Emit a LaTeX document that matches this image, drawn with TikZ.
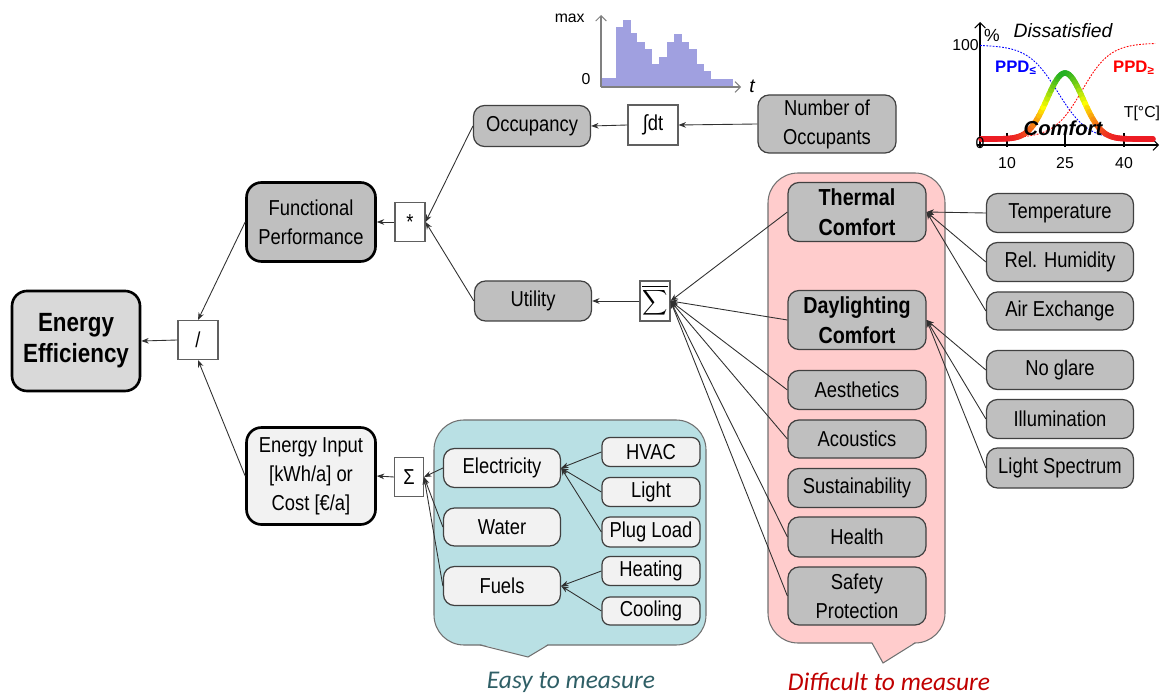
\documentclass[tikz,border=0pt]{standalone}
\usepackage{fontspec}
\setmainfont[FakeStretch=0.85]{Liberation Sans}
\newfontfamily\chartfont{Liberation Sans}
\newfontfamily\notefont{Carlito}
\usetikzlibrary{arrows.meta}

\definecolor{nodegray}{HTML}{BFBFBF}
\definecolor{nodelight}{HTML}{F2F2F2}
\definecolor{eefill}{HTML}{D9D9D9}
\definecolor{nodeline}{HTML}{404040}
\definecolor{opline}{HTML}{606060}
\definecolor{linkc}{HTML}{303030}
\definecolor{tealfill}{HTML}{B9E0E4}
\definecolor{pinkfill}{HTML}{FFCCCC}
\definecolor{regionline}{HTML}{707070}
\definecolor{histbar}{HTML}{A0A0E0}
\definecolor{histaxis}{HTML}{808080}
\definecolor{cgreen}{HTML}{22B022}
\definecolor{easyc}{HTML}{2F5F66}
\definecolor{hardc}{HTML}{C00000}

\begin{document}
\begin{tikzpicture}[x=0.02cm,y=-0.02cm,
  sz/.style 2 args={minimum width=#1*0.02cm, minimum height=#2*0.02cm},
  box/.style={draw=nodeline, line width=0.7pt, rounded corners=0.22cm, align=center,
    inner sep=0pt, font=\fontsize{12.3}{16.5}\selectfont},
  graybox/.style={box, fill=nodegray},
  lightbox/.style={box, fill=nodelight},
  smallbox/.style={lightbox, rounded corners=0.16cm},
  mainbox/.style={box, draw=black, line width=1.5pt, rounded corners=0.3cm},
  op/.style={draw=opline, fill=white, line width=0.6pt, inner sep=0pt,
    font=\fontsize{12.3}{14}\selectfont},
  link/.style={draw=linkc, line width=0.5pt, -{Stealth[length=4.2pt,width=3.2pt]}},
  region/.style={draw=regionline, line width=0.6pt, rounded corners=0.6cm},
  boldtxt/.style={font=\fontsize{13.2}{17}\selectfont\bfseries},
  axis/.style={line width=0.6pt, -{Straight Barb[length=3pt,width=6pt]}},
  small/.style={font=\chartfont\fontsize{9}{10}\selectfont, inner sep=0pt}
]
\useasboundingbox (0,0) rectangle (1162,695);

% ---------- background regions ----------
\draw[region, fill=tealfill] (434,420) rectangle (706,645);
\fill[tealfill] (480,644) -- (548,644) -- (528,657) -- cycle;
\draw[draw=regionline, line width=0.6pt] (480,645) -- (528,657) -- (548,645);

\draw[region, fill=pinkfill] (768,173) rectangle (945,643);
\fill[pinkfill] (872,642) -- (915,642) -- (883,663) -- cycle;
\draw[draw=regionline, line width=0.6pt] (872,643) -- (883,663) -- (915,643);

% ---------- main tree ----------
\node[mainbox, fill=eefill, sz={128}{100}, font=\fontsize{15}{17.6}\selectfont\bfseries]
  (ee) at (76,341) {Energy\\Efficiency};
\node[op, sz={40}{39}] (div) at (198,340) {/};
\node[mainbox, fill=nodegray, sz={129}{79}] (fp) at (311,222) {Functional\\Performance};
\node[op, sz={30}{39}] (mul) at (410,222) {*};
\node[graybox, sz={117}{41}] (occ) at (532,126) {Occupancy};
\node[op, sz={50}{40}] (integ) at (653,125) {∫dt};
\node[graybox, sz={138}{58}] (noo) at (827,124) {Number of\\Occupants};
\node[graybox, sz={117}{40}] (util) at (533,301) {Utility};
\node[op, sz={30}{40}, font=\fontsize{11.5}{11.5}\selectfont] (sumbar) at (655,301) {$\displaystyle\overline{\sum}$};
\node[mainbox, fill=nodelight, sz={129}{97}] (ei) at (311,476) {Energy Input\\{}[kWh/a] or\\Cost [€/a]};
\node[op, sz={29}{39}] (sum) at (409,477) {Σ};

% energy inputs (easy to measure)
\node[lightbox, sz={117}{39}] (elec) at (502,468) {Electricity};
\node[lightbox, sz={117}{38}] (water) at (502,527) {Water};
\node[lightbox, sz={117}{39}] (fuels) at (502,586) {Fuels};
\node[smallbox, sz={98}{29}] (hvac) at (651,452) {HVAC};
\node[smallbox, sz={98}{29}] (light) at (651,492) {Light};
\node[smallbox, sz={98}{30}] (plug) at (651,532) {Plug Load};
\node[smallbox, sz={98}{29}] (heat) at (651,571) {Heating};
\node[smallbox, sz={98}{28}] (cool) at (651,611) {Cooling};

% utility factors (difficult to measure)
\node[graybox, boldtxt, sz={138}{59}] (tc) at (857,212) {Thermal\\Comfort};
\node[graybox, boldtxt, sz={138}{59}] (dc) at (857,320) {Daylighting\\Comfort};
\node[graybox, sz={138}{39}] (aes) at (857,390) {Aesthetics};
\node[graybox, sz={138}{38}] (aco) at (857,439) {Acoustics};
\node[graybox, sz={138}{39}] (sus) at (857,488) {Sustainability};
\node[graybox, sz={138}{40}] (hea) at (857,537) {Health};
\node[graybox, sz={138}{58}] (saf) at (857,596) {Safety\\Protection};

\node[graybox, sz={147}{39}] (temp) at (1060,213) {Temperature};
\node[graybox, sz={147}{39}] (hum) at (1060,262) {Rel. Humidity};
\node[graybox, sz={147}{38}] (air) at (1060,311) {Air Exchange};
\node[graybox, sz={147}{39}] (glare) at (1060,370) {No glare};
\node[graybox, sz={147}{39}] (illum) at (1060,419) {Illumination};
\node[graybox, sz={147}{40}] (spec) at (1060,468) {Light Spectrum};

% ---------- connectors ----------
\draw[link] (div.west) -- (ee.east);
\draw[link] (fp.west) -- (div.north);
\draw[link] (ei.west) -- (div.south);
\draw[link] (mul.west) -- (fp.east);
\draw[link] (occ.west) -- (mul.east);
\draw[link] (util.west) -- (mul.east);
\draw[link] (integ.west) -- (occ.east);
\draw[link] (noo.west) -- (integ.east);
\draw[link] (sumbar.west) -- (util.east);
\foreach \n in {tc,dc,aes,aco,hea,saf}
  \draw[link] (\n.west) -- (sumbar.east);
\foreach \n in {temp,hum,air}
  \draw[link] (\n.west) -- (tc.east);
\foreach \n in {glare,illum,spec}
  \draw[link] (\n.west) -- (dc.east);
\draw[link] (sum.west) -- (ei.east);
\foreach \n in {elec,water,fuels}
  \draw[link] (\n.west) -- (sum.east);
\foreach \n in {hvac,light,plug}
  \draw[link] (\n.west) -- (elec.east);
\foreach \n in {heat,cool}
  \draw[link] (\n.west) -- (fuels.east);

% ---------- occupancy histogram ----------
\foreach \a/\b/\t in {601/616/78, 616/623.3/27, 623.3/630.7/20, 630.7/637.3/33,
    637.3/645/42, 645/652.3/49, 652.3/659.3/64, 659.3/667.3/57, 667.3/674.3/42,
    674.3/681.7/34, 681.7/689/42, 689/696.7/49, 696.7/704/64, 704/711/71, 711/733/79}
  \fill[histbar] (\a,87) rectangle (\b,\t);
\draw[axis, histaxis] (601,87) -- (601,15);
\draw[axis, histaxis] (601,87) -- (741,87);
\node[small, anchor=east] (hmax) at (585,18) {max};
\node[small] (hzero) at (586,79) {0};
\node[small, font=\chartfont\itshape\fontsize{11}{12}\selectfont] (ht) at (752,86) {t};

% ---------- PPD / comfort chart ----------
\draw[axis, black] (980,148) -- (980,22);
\draw[axis, black] (977,145) -- (1159,145);
\foreach \tx in {1007,1065,1124}
  \draw[black, line width=0.6pt] (\tx,133) -- (\tx,147);
\draw[blue, line width=0.5pt, dash pattern=on 1pt off 0.8pt, domain=980:1155, samples=80, smooth]
  plot (\x, {45+95/(1+exp(-(\x-1058)/15))});
\draw[red, line width=0.5pt, dash pattern=on 1pt off 0.8pt, domain=980:1155, samples=80, smooth]
  plot (\x, {138-95/(1+exp(-(\x-1082)/14))});
% comfort band, coloured by height
\foreach \i in {0,...,85}{
  \pgfmathsetmacro\xa{981+2*\i}
  \pgfmathsetmacro\xb{\xa+2}
  \pgfmathsetmacro\ya{139-66*exp(-((\xa-1065)^2)/648)}
  \pgfmathsetmacro\yb{139-66*exp(-((\xb-1065)^2)/648)}
  \pgfmathsetmacro\hm{exp(-((\xa+1-1065)^2)/648)}
  \ifdim\hm pt<0.5pt
    \pgfmathsetmacro\pc{200*\hm}\def\cc{yellow!\pc!red}
  \else
    \pgfmathsetmacro\pc{200*(\hm-0.5)}\def\cc{cgreen!\pc!yellow}
  \fi
  \draw[line width=3.2pt, line cap=round, color=\cc] (\xa,\ya) -- (\xb,\yb);
}
\node[small, font=\chartfont\fontsize{10}{11}\selectfont] (pct) at (992,35) {\%};
\node[small, font=\chartfont\itshape\fontsize{11}{12}\selectfont] (diss) at (1063,31) {Dissatisfied};
\node[small, anchor=east] (hundred) at (979,45) {100};
\node[small] (origin) at (980,143) {0};
\node[small, font=\chartfont\bfseries\fontsize{9.5}{10}\selectfont, text=blue] (ppdl) at (1016,68) {PPD\textsubscript{≤}};
\node[small, font=\chartfont\bfseries\fontsize{9.5}{10}\selectfont, text=red] (ppdg) at (1134,68) {PPD\textsubscript{≥}};
\node[small] (tdeg) at (1142,113) {T[°C]};
\node[small, font=\chartfont\bfseries\itshape\fontsize{11.5}{12}\selectfont] (comf) at (1063,128) {Comfort};
\node[small] (t10) at (1007,163) {10};
\node[small] (t25) at (1065,163) {25};
\node[small] (t40) at (1124,163) {40};

% ---------- captions ----------
\node[font=\notefont\itshape\fontsize{14.5}{16}\selectfont, text=easyc, inner sep=0pt] (easy) at (571,682) {Easy to measure};
\node[font=\notefont\itshape\fontsize{14.5}{16}\selectfont, text=hardc, inner sep=0pt] (hard) at (889,682) {Difficult to measure};
\end{tikzpicture}
\end{document}
